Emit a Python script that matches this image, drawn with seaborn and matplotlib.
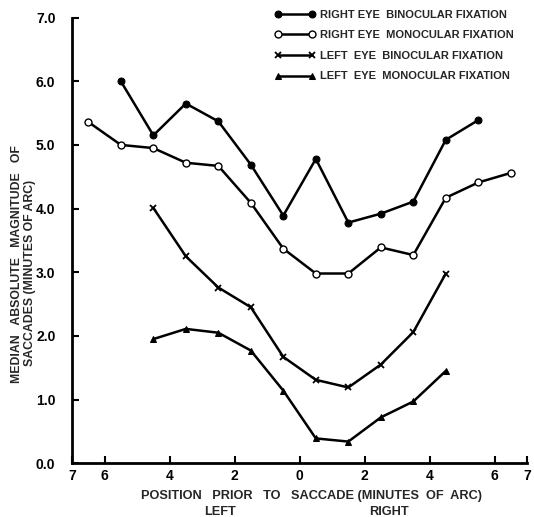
import numpy as np
import pandas as pd
import seaborn as sns
import matplotlib.pyplot as plt

# positions (negative = left, positive = right), minutes of arc
x_rb = [-5.5, -4.5, -3.5, -2.5, -1.5, -0.5, 0.5, 1.5, 2.5, 3.5, 4.5, 5.5]
y_rb = [6.0, 5.15, 5.65, 5.37, 4.69, 3.89, 4.78, 3.78, 3.92, 4.11, 5.08, 5.39]

x_rm = [-6.5, -5.5, -4.5, -3.5, -2.5, -1.5, -0.5, 0.5, 1.5, 2.5, 3.5, 4.5, 5.5, 6.5]
y_rm = [5.36, 5.0, 4.95, 4.72, 4.67, 4.09, 3.37, 2.98, 2.98, 3.39, 3.27, 4.17, 4.41, 4.56]

x_lb = [-4.5, -3.5, -2.5, -1.5, -0.5, 0.5, 1.5, 2.5, 3.5, 4.5]
y_lb = [4.01, 3.25, 2.76, 2.45, 1.67, 1.31, 1.19, 1.55, 2.06, 2.98]

x_lm = [-4.5, -3.5, -2.5, -1.5, -0.5, 0.5, 1.5, 2.5, 3.5, 4.5]
y_lm = [1.95, 2.11, 2.05, 1.77, 1.14, 0.39, 0.34, 0.72, 0.97, 1.45]

labels = ['RIGHT EYE  BINOCULAR FIXATION',
          'RIGHT EYE  MONOCULAR FIXATION',
          'LEFT  EYE  BINOCULAR FIXATION',
          'LEFT  EYE  MONOCULAR FIXATION']

xtick_pos = [-7, -6, -4, -2, 0, 2, 4, 6, 7]
xtick_lab = ['7', '6', '4', '2', '0', '2', '4', '6', '7']
ytick_pos = [0, 1, 2, 3, 4, 5, 6, 7]
ytick_lab = ['0.0', '1.0', '2.0', '3.0', '4.0', '5.0', '6.0', '7.0']

sns.set_style("ticks")
plt.rcParams['font.family'] = ['Liberation Sans', 'DejaVu Sans']
plt.rcParams['font.weight'] = 'bold'

fig = plt.figure(figsize=(5.34, 5.17), dpi=100)
ax = fig.add_axes([0.135, 0.104, 0.852, 0.862])

styles = [
    dict(marker='o', markersize=5, markerfacecolor='black', markeredgecolor='black'),
    dict(marker='o', markersize=5, markerfacecolor='white', markeredgecolor='black', markeredgewidth=1),
    dict(marker='x', markersize=5, markeredgecolor='black', markeredgewidth=1.3),
    dict(marker='^', markersize=5, markerfacecolor='black', markeredgecolor='black'),
]
series = [(x_rb, y_rb), (x_rm, y_rm), (x_lb, y_lb), (x_lm, y_lm)]
for (xs, ys), lab, st in zip(series, labels, styles):
    sns.lineplot(x=xs, y=ys, ax=ax, color='black', linewidth=1.8, label=lab, **st)

ax.set_xlim(-7, 7)
ax.set_ylim(0, 7)
ax.set_xticks(xtick_pos)
ax.set_xticklabels(xtick_lab)
ax.set_yticks(ytick_pos)
ax.set_yticklabels(ytick_lab)
ax.tick_params(direction='in', length=5, width=1.5, labelsize=10, colors='black')
ax.tick_params(axis='y', pad=12)
ax.tick_params(axis='x', pad=4)
for lbl in ax.get_xticklabels() + ax.get_yticklabels():
    lbl.set_fontweight('bold')
sns.despine(ax=ax)
ax.spines['left'].set_linewidth(2)
ax.spines['bottom'].set_linewidth(2)
ax.spines['left'].set_color('black')
ax.spines['bottom'].set_color('black')
ax.set_xlabel('')
ax.set_ylabel('')

leg = ax.legend(loc='upper right', bbox_to_anchor=(0.993, 1.04), frameon=False,
                numpoints=2, handlelength=3.6, handletextpad=0.45,
                labelspacing=0.95, prop={'size': 8, 'weight': 'bold'})

fig.text(0.031, 0.49, 'MEDIAN   ABSOLUTE   MAGNITUDE   OF', rotation=90,
         ha='center', va='center', fontsize=8.8, fontweight='bold')
fig.text(0.057, 0.472, 'SACCADES (MINUTES OF ARC)', rotation=90,
         ha='center', va='center', fontsize=8.8, fontweight='bold')
fig.text(0.584, 0.04, 'POSITION   PRIOR   TO   SACCADE (MINUTES  OF  ARC)',
         ha='center', va='center', fontsize=9.2, fontweight='bold')
fig.text(0.412, 0.01, 'LEFT', ha='center', va='center', fontsize=9.2, fontweight='bold')
fig.text(0.728, 0.01, 'RIGHT', ha='center', va='center', fontsize=9.2, fontweight='bold')

plt.savefig('out.png', dpi=100)
